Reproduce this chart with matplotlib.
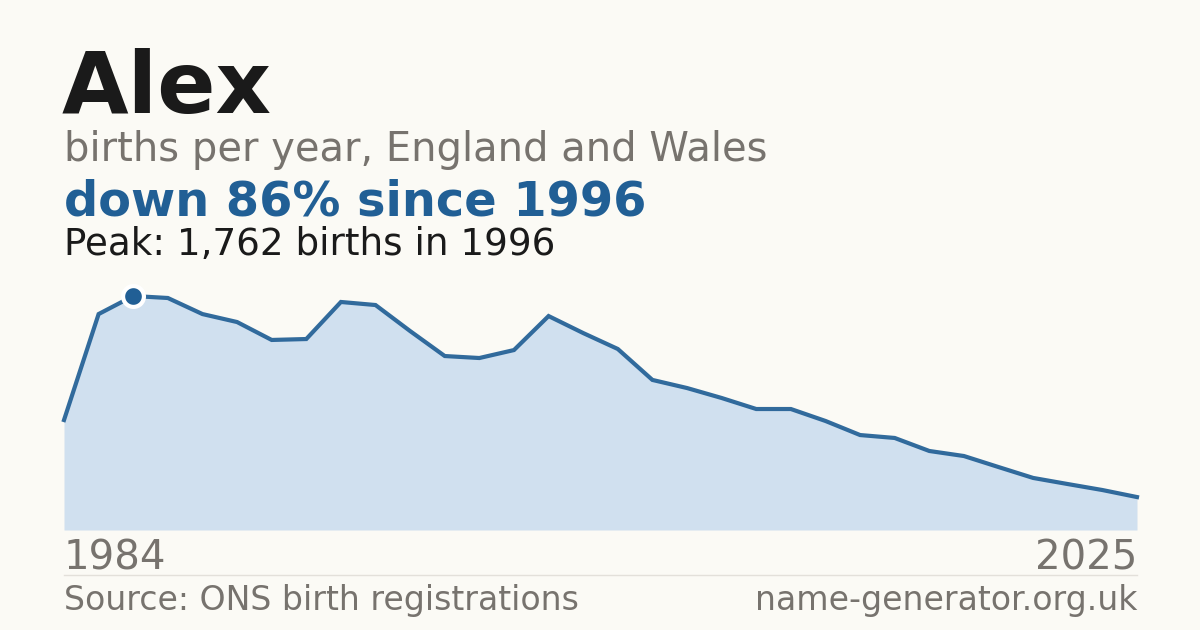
import matplotlib.pyplot as plt

# Yearly births for the name
years = list(range(1994, 2026))
births = [828, 1626, 1762, 1747, 1626, 1566, 1431, 1438, 1717, 1694,
          1498, 1310, 1295, 1355, 1611, 1483, 1363, 1130, 1069, 994,
          911, 911, 821, 715, 693, 595, 557, 474, 392, 346, 301, 248]

name = "Alex"
subtitle = "births per year, England and Wales"
headline = "down 86% since 1996"
peak_note = "Peak: 1,762 births in 1996"
start_label = "1984"
end_label = "2025"
source = "Source: ONS birth registrations"
site = "name-generator.org.uk"

W, H = 1200, 630
bg = "#fbfaf5"
blue = "#215f95"
fill = "#d0e0ef"
grey = "#77736e"

fig = plt.figure(figsize=(W / 100, H / 100), dpi=100, facecolor=bg)


def px(x, y):
    return x / W, 1 - y / H


# chart area: x 64..1137, y 530 (zero) .. 296 (peak)
ax = fig.add_axes([64 / W, (H - 530) / H, (1137 - 64) / W, (530 - 296) / H])
ax.set_facecolor("none")
ax.fill_between(years, births, 0, color=fill, linewidth=0)
ax.plot(years, births, color=blue, linewidth=3.0, solid_joinstyle="miter",
        clip_on=False, alpha=0.92)
peak_i = births.index(max(births))
ax.plot(years[peak_i], births[peak_i], "o", color=blue, markersize=15,
        markeredgecolor="white", markeredgewidth=3, clip_on=False, zorder=5)
ax.set_xlim(years[0], years[-1])
ax.set_ylim(0, max(births))
ax.axis("off")

fig.text(*px(62, 113), name, fontsize=62, fontweight="bold", color="#1a1a1a",
         va="baseline")
fig.text(*px(64, 161), subtitle, fontsize=28.8, color=grey, va="baseline")
fig.text(*px(64, 215), headline, fontsize=34.5, fontweight="bold", color=blue,
         va="baseline")
fig.text(*px(64, 255), peak_note, fontsize=26.8, color="#1a1a1a", va="baseline")

fig.text(*px(64, 569), start_label, fontsize=29, color=grey, va="baseline")
fig.text(*px(1137, 569), end_label, fontsize=29, color=grey, va="baseline",
         ha="right")

fig.add_artist(plt.Line2D([64 / W, 1137 / W], [1 - 574.5 / H] * 2,
                          color="#e3e0da", linewidth=1))

fig.text(*px(64, 610), source, fontsize=23.9, color=grey, va="baseline")
fig.text(*px(1137, 610), site, fontsize=23.9, color=grey, va="baseline",
         ha="right")

fig.savefig("out.png", dpi=100, facecolor=bg)
